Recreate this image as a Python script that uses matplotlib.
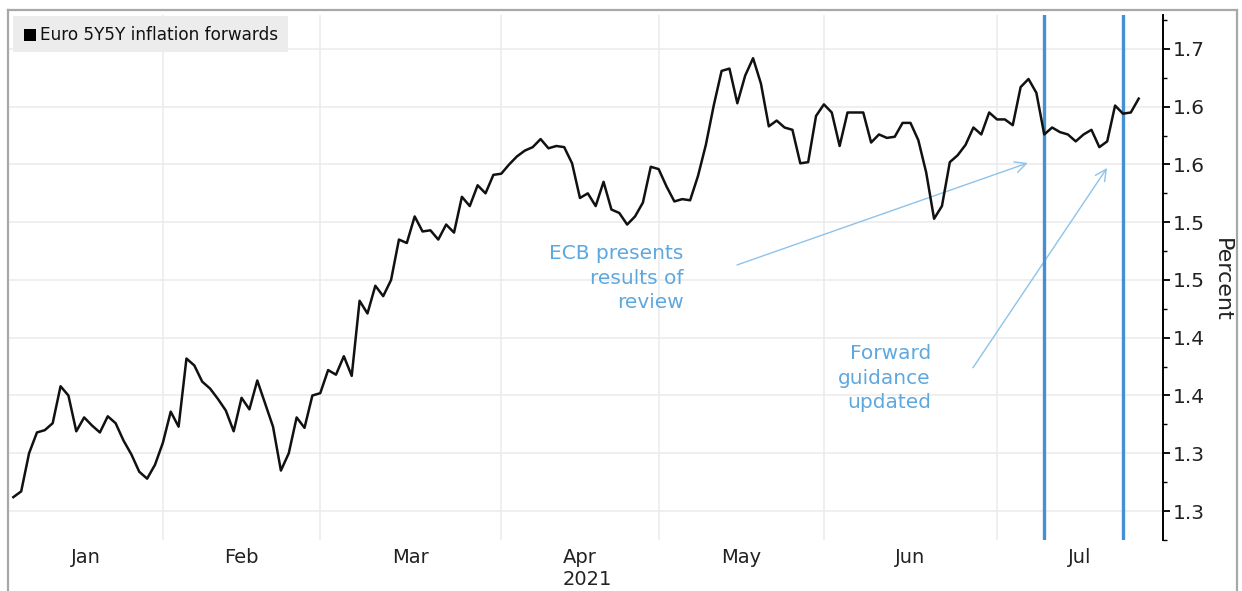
import pandas as pd
import matplotlib
matplotlib.use("Agg")
import matplotlib.pyplot as plt
from matplotlib.patches import Rectangle
from matplotlib.lines import Line2D

W, H = 1242, 591

# trading days (TARGET calendar: Good Friday and Easter Monday off)
dates = pd.bdate_range("2021-01-04", "2021-07-26")
dates = dates.drop(pd.to_datetime(["2021-04-02", "2021-04-05"]))

# Euro 5Y5Y inflation forwards, percent
fwd = [
    1.262, 1.267, 1.300, 1.318, 1.320, 1.326, 1.358, 1.350, 1.319, 1.331,
    1.324, 1.318, 1.332, 1.326, 1.311, 1.299, 1.284, 1.278, 1.290, 1.309,
    1.336, 1.323, 1.382, 1.376, 1.362, 1.356, 1.347, 1.337, 1.319, 1.348,
    1.338, 1.363, 1.343, 1.323, 1.285, 1.300, 1.331, 1.322, 1.350, 1.352,
    1.372, 1.368, 1.384, 1.367, 1.432, 1.421, 1.445, 1.436, 1.450, 1.485,
    1.482, 1.505, 1.492, 1.493, 1.485, 1.498, 1.491, 1.522, 1.514, 1.532,
    1.525, 1.541, 1.542, 1.550, 1.557, 1.562, 1.565, 1.572, 1.564, 1.566,
    1.565, 1.551, 1.521, 1.525, 1.514, 1.535, 1.511, 1.508, 1.498, 1.505,
    1.517, 1.548, 1.546, 1.531, 1.518, 1.520, 1.519, 1.540, 1.567, 1.601,
    1.631, 1.633, 1.603, 1.627, 1.642, 1.620, 1.583, 1.588, 1.582, 1.580,
    1.551, 1.552, 1.592, 1.602, 1.595, 1.566, 1.595, 1.595, 1.595, 1.569,
    1.576, 1.573, 1.574, 1.586, 1.586, 1.571, 1.543, 1.503, 1.514, 1.552,
    1.558, 1.567, 1.582, 1.576, 1.595, 1.589, 1.589, 1.584, 1.617, 1.624,
    1.612, 1.576, 1.582, 1.578, 1.576, 1.570, 1.576, 1.580, 1.565, 1.570,
    1.601, 1.594, 1.595, 1.607,
]

y_ticks = [1.25, 1.30, 1.35, 1.40, 1.45, 1.50, 1.55, 1.60, 1.65]
y_labels = ["1.3", "1.3", "1.4", "1.4", "1.5", "1.5", "1.6", "1.6", "1.7"]
y_minor = [1.225, 1.275, 1.325, 1.375, 1.425, 1.475, 1.525, 1.575, 1.625, 1.675]
month_names = ["Jan", "Feb", "Mar", "Apr", "May", "Jun", "Jul"]
events = ["2021-07-08", "2021-07-22"]  # ECB strategy review, ECB meeting

BLUE = "#4490d4"
NOTE = "#5ea8e0"
ARROW = "#8dc3ea"
GRID = "#ebebeb"

fig = plt.figure(figsize=(W / 100, H / 100), dpi=100)
ax = fig.add_axes([9 / W, 1 - 540 / H, (1163 - 9) / W, (540 - 15) / H])

x = list(range(len(dates)))
ax.plot(x, fwd, color="#111111", lw=1.8, zorder=5)

x_lo, x_hi = -0.55, 146.09
ax.set_xlim(x_lo, x_hi)
ax.set_ylim(1.2249, 1.6794)

# month boundaries (gridline sits on last trading day of previous month)
starts = [list(dates.month).index(m) for m in range(1, 8)]
bounds = [s - 1 for s in starts[1:]]
for b in bounds:
    ax.axvline(b, color=GRID, lw=1.1, zorder=1)
for yv in y_ticks:
    ax.axhline(yv, color=GRID, lw=1.1, zorder=1)

edges = [x_lo] + bounds + [x_hi]
centers = [(edges[i] + edges[i + 1]) / 2 for i in range(len(month_names))]
ax.set_xticks(centers)
ax.set_xticklabels(month_names, fontsize=14, color="#222222")
ax.tick_params(axis="x", length=0, pad=6)
apr = month_names.index("Apr")
ax.text(centers[apr] - 2.2, -0.058, "2021", transform=ax.get_xaxis_transform(),
        ha="left", va="top", fontsize=14, color="#222222")

# ECB event lines
for d in events:
    ax.axvline(dates.get_loc(pd.Timestamp(d)), color=BLUE, lw=2.4, zorder=4)

# right y axis
for s in ["top", "left", "bottom"]:
    ax.spines[s].set_visible(False)
ax.spines["right"].set_linewidth(1.4)
ax.yaxis.tick_right()
ax.set_yticks(y_ticks)
ax.set_yticklabels(y_labels, fontsize=14.5, color="#222222")
ax.set_yticks(y_minor, minor=True)
ax.tick_params(axis="y", which="major", length=5, width=1.3, pad=2, direction="out")
ax.tick_params(axis="y", which="minor", length=3, width=1.0, direction="out")
fig.text(1222 / W, 1 - 280 / H, "Percent", rotation=270, ha="center", va="center",
         fontsize=16, color="#222222")

# annotations
ax.text(85.2, 1.4517, "ECB presents\nresults of\nreview", ha="right", va="center",
        multialignment="right", color=NOTE, fontsize=14.5, linespacing=1.35)
ax.text(116.6, 1.365, "Forward\nguidance\nupdated", ha="right", va="center",
        multialignment="right", color=NOTE, fontsize=14.5, linespacing=1.35)
ax.annotate("", xy=(128.9, 1.5513), xytext=(91.96, 1.463),
            arrowprops=dict(arrowstyle="->", color=ARROW, lw=1.0,
                            mutation_scale=20, shrinkA=0, shrinkB=0))
ax.annotate("", xy=(138.98, 1.547), xytext=(121.94, 1.374),
            arrowprops=dict(arrowstyle="->", color=ARROW, lw=1.0,
                            mutation_scale=20, shrinkA=0, shrinkB=0))

# legend box
fig.add_artist(Rectangle((13 / W, 1 - 52 / H), 275 / W, 36 / H,
                         transform=fig.transFigure, facecolor="#ececec",
                         edgecolor="none", zorder=6))
fig.add_artist(Rectangle((24 / W, 1 - 41 / H), 12 / W, 12 / H,
                         transform=fig.transFigure, facecolor="black",
                         edgecolor="none", zorder=7))
fig.text(40 / W, 1 - 35 / H, "Euro 5Y5Y inflation forwards", ha="left", va="center",
         fontsize=12.2, color="#111111", zorder=8)

# outer frame
fc = "#a8a8a8"
fig.add_artist(Line2D([7.5 / W, 7.5 / W], [0, 1 - 9.5 / H], color=fc, lw=1.6))
fig.add_artist(Line2D([7.5 / W, 1237 / W], [1 - 9.5 / H, 1 - 9.5 / H], color=fc, lw=1.6))
fig.add_artist(Line2D([1237 / W, 1237 / W], [0, 1 - 9.5 / H], color=fc, lw=1.6))

fig.savefig("out.png", dpi=100, facecolor="white")
